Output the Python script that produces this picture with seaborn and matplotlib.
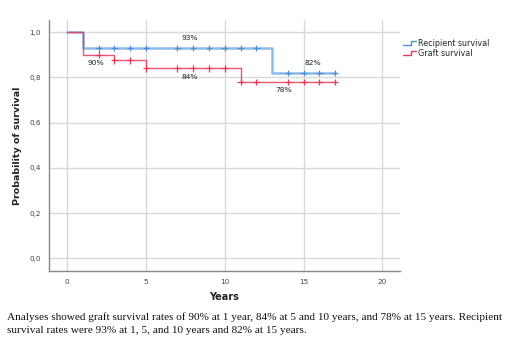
import numpy as np
import pandas as pd
import matplotlib
matplotlib.use("Agg")
import matplotlib.pyplot as plt
import seaborn as sns
from matplotlib.legend_handler import HandlerBase
from matplotlib.lines import Line2D

# Kaplan-Meier step points (years, survival probability)
recipient_time = [0, 1, 13, 17]
recipient_surv = [1.0, 0.93, 0.82, 0.82]
graft_time = [0, 1, 3, 5, 11, 17]
graft_surv = [1.0, 0.90, 0.875, 0.84, 0.78, 0.78]

# Censoring times (years)
recipient_censor = [2, 3, 4, 5, 7, 8, 9, 10, 11, 12, 14, 15, 16, 17]
graft_censor = [2, 3, 4, 5, 7, 8, 9, 10, 11, 12, 14, 15, 16, 17]

# Annotated survival rates: (series, year, rate)
rate_labels = [
    ("Recipient survival", 7.77, 0.93, "93%"),
    ("Graft survival", 1.79, 0.90, "90%"),
    ("Graft survival", 7.77, 0.84, "84%"),
    ("Recipient survival", 15.59, 0.82, "82%"),
    ("Graft survival", 13.75, 0.78, "78%"),
]

x_ticks = [0, 5, 10, 15, 20]
y_ticks = [0.0, 0.2, 0.4, 0.6, 0.8, 1.0]
y_tick_labels = ["0,0", "0,2", "0,4", "0,6", "0,8", "1,0"]

caption = ("Analyses showed graft survival rates of 90% at 1 year, 84% at 5 and 10 years, "
           "and 78% at 15 years. Recipient\n"
           "survival rates were 93% at 1, 5, and 10 years and 82% at 15 years.")

BLUE_LINE = "#8fbbe8"
BLUE_MARK = "#4f8fd6"
RED = "#e8385a"

sns.set_theme(style="whitegrid")
plt.rcParams["font.family"] = ["DejaVu Sans"]

curves = pd.concat([
    pd.DataFrame({"time": recipient_time, "surv": recipient_surv, "series": "Recipient survival"}),
    pd.DataFrame({"time": graft_time, "surv": graft_surv, "series": "Graft survival"}),
])


def step_value(t, times, surv):
    idx = np.searchsorted(times, t, side="right") - 1
    return np.asarray(surv)[idx]


censor = pd.concat([
    pd.DataFrame({"time": recipient_censor,
                  "surv": step_value(recipient_censor, recipient_time, recipient_surv),
                  "series": "Recipient survival"}),
    pd.DataFrame({"time": graft_censor,
                  "surv": step_value(graft_censor, graft_time, graft_surv),
                  "series": "Graft survival"}),
])

fig = plt.figure(figsize=(5.18, 3.47), dpi=100)
ax = fig.add_axes([0.0946, 0.219, 0.677, 0.723])

mark_pal = {"Recipient survival": BLUE_MARK, "Graft survival": RED}

rec = curves[curves.series == "Recipient survival"]
gra = curves[curves.series == "Graft survival"]
sns.lineplot(data=rec, x="time", y="surv", ax=ax, color=BLUE_LINE, lw=1.8,
             drawstyle="steps-post", estimator=None, legend=False)
sns.lineplot(data=gra, x="time", y="surv", ax=ax, color=RED, lw=1.0, alpha=0.85,
             drawstyle="steps-post", estimator=None, legend=False)
sns.scatterplot(data=censor, x="time", y="surv", hue="series", palette=mark_pal,
                marker="+", s=22, linewidth=0.9, ax=ax, legend=False, zorder=4)

for series, x, y, txt in rate_labels:
    dy = 0.045 if series == "Recipient survival" else -0.037
    ax.text(x, y + dy, txt, ha="center", va="center", fontsize=5.4, color="#222222")

ax.set_xlim(-1.15, 21.1)
ax.set_ylim(-0.056, 1.053)
ax.set_xticks(x_ticks)
ax.set_yticks(y_ticks)
ax.set_yticklabels(y_tick_labels)
ax.tick_params(axis="both", labelsize=5.2, colors="#444444", length=0, pad=6)
ax.grid(True, color="#d9d9d9", lw=1.0)
for side in ["top", "right"]:
    ax.spines[side].set_visible(False)
for side in ["left", "bottom"]:
    ax.spines[side].set_color("#888888")
    ax.spines[side].set_linewidth(1.0)

ax.set_xlabel("Years", fontsize=7, fontweight="bold", color="#222222", labelpad=5)
ax.set_ylabel("Probability of survival", fontsize=6.8, fontweight="bold",
              color="#222222", labelpad=5)


class StepHandler(HandlerBase):
    def create_artists(self, legend, orig_handle, xdescent, ydescent, width, height,
                       fontsize, trans):
        x0, x1 = -xdescent, -xdescent + width
        ylo, yhi = -ydescent + height * 0.15, -ydescent + height * 0.85
        xm = x0 + width * 0.6
        ln = Line2D([x0, xm, xm, x1], [ylo, ylo, yhi, yhi],
                    color=orig_handle.get_color(), lw=1.0, transform=trans)
        return [ln]


handles = [Line2D([], [], color=BLUE_MARK), Line2D([], [], color=RED)]
fig.legend(handles, ["Recipient survival", "Graft survival"],
           handler_map={Line2D: StepHandler()},
           loc="upper left", bbox_to_anchor=(0.768, 0.905), frameon=False,
           fontsize=5.8, handlelength=1.6, handletextpad=0.2, labelspacing=0.15,
           borderpad=0.2)

fig.text(7 / 518, 1 - 312 / 347, caption, ha="left", va="top", fontsize=8.1,
         family=["Liberation Serif"], color="#111111", linespacing=1.55)

fig.savefig("out.png", dpi=100)
